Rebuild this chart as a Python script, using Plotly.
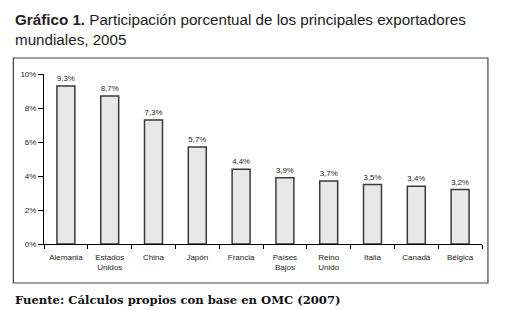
import plotly.graph_objects as go

categories = ["Alemania", "Estados<br>Unidos", "China", "Japón", "Francia",
              "Países<br>Bajos", "Reino<br>Unido", "Italia", "Canadá", "Bélgica"]
values = [9.3, 8.7, 7.3, 5.7, 4.4, 3.9, 3.7, 3.5, 3.4, 3.2]
labels = ["9,3%", "8,7%", "7,3%", "5,7%", "4,4%", "3,9%", "3,7%", "3,5%", "3,4%", "3,2%"]
ytick_vals = [0, 2, 4, 6, 8, 10]
ytick_text = ["0%", "2%", "4%", "6%", "8%", "10%"]

# page body has an 8px default margin; work in reference pixels and shift
OFF = 8
W, H = 505 - OFF, 310 - OFF
L, R, T, B = 39 - OFF, 23, 74 - OFF, 66
pw, ph = W - L - R, H - T - B

def px(x):
    return (x - OFF - L) / pw

def py(y):
    return (H - B - (y - OFF)) / ph

fig = go.Figure(go.Bar(
    x=categories, y=values, text=labels, textposition="outside",
    textfont=dict(family="Liberation Sans, Arial", size=8, color="#222"),
    cliponaxis=False,
    marker=dict(color="#e8e8e8", line=dict(color="#3a3a3a", width=1.5)),
    width=0.41,
))

fig.update_layout(
    width=W, height=H,
    margin=dict(l=L, r=R, t=T, b=B),
    paper_bgcolor="white", plot_bgcolor="white",
    showlegend=False,
    font=dict(family="Liberation Sans, Arial", size=8, color="#222"),
    xaxis=dict(
        showline=True, linecolor="black", linewidth=1,
        ticks="outside", tickson="boundaries", ticklen=4, tickcolor="black",
        tickfont=dict(size=8), showgrid=False, ticklabelstandoff=5,
    ),
    yaxis=dict(
        range=[0, 10], showline=True, linecolor="black", linewidth=1,
        ticks="outside", ticklen=5, tickcolor="black",
        tickvals=ytick_vals, ticktext=ytick_text,
        tickfont=dict(size=8), showgrid=False, zeroline=False,
    ),
    shapes=[dict(type="rect", xref="paper", yref="paper",
                 x0=px(8), x1=px(488), y0=py(283), y1=py(58),
                 line=dict(color="#444", width=1.2), fillcolor="rgba(0,0,0,0)",
                 layer="below")],
    annotations=[
        dict(xref="paper", yref="paper", x=px(8), y=py(9), xanchor="left", yanchor="top",
             align="left", showarrow=False,
             text="<b>Gráfico 1.</b> Participación porcentual de los principales exportadores<br>mundiales, 2005",
             font=dict(family="Liberation Sans, Arial", size=15.2, color="#222")),
        dict(xref="paper", yref="paper", x=px(8), y=py(291), xanchor="left", yanchor="top",
             showarrow=False,
             text="<b>Fuente: Cálculos propios con base en OMC (2007)</b>",
             font=dict(family="DejaVu Serif", size=11.6, color="#111")),
    ],
)

fig.write_html("out.html")
